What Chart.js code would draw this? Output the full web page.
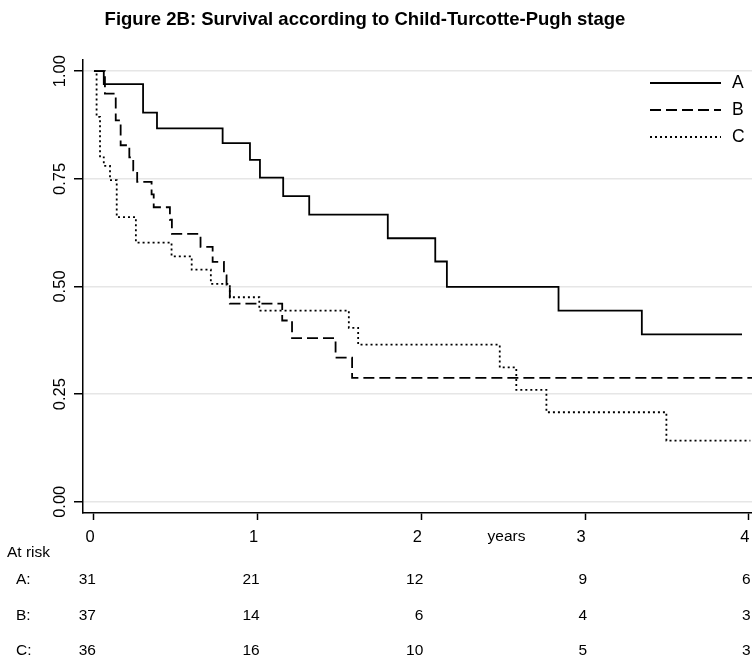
<!DOCTYPE html>
<html>
<head>
<meta charset="utf-8">
<title>Figure 2B: Survival according to Child-Turcotte-Pugh stage</title>
<script src="https://cdn.jsdelivr.net/npm/chart.js@4.4.0/dist/chart.umd.min.js"></script>
<style>
  body { margin: 0; background: #fff; }
  #wrap { position: relative; width: 752px; height: 661px; }
</style>
</head>
<body>
<div id="wrap"><canvas id="km"></canvas></div>
<script>
// Kaplan-Meier steps (time in years -> survival)
var timeA = [0, 0.06, 0.30, 0.385, 0.786, 0.953, 1.014, 1.156, 1.315, 1.795, 2.085, 2.156, 2.838, 3.347, 3.959];
var survA = [1.0, 0.970, 0.904, 0.867, 0.833, 0.794, 0.753, 0.710, 0.667, 0.612, 0.558, 0.499, 0.444, 0.389, 0.389];

var timeB = [0, 0.067, 0.133, 0.163, 0.216, 0.24, 0.264, 0.352, 0.365, 0.464, 0.476, 0.651, 0.725, 0.794, 0.81, 0.83, 1.15, 1.21, 1.476, 1.577, 4.02];
var survB = [1.0, 0.948, 0.886, 0.828, 0.80, 0.77, 0.743, 0.714, 0.684, 0.655, 0.622, 0.592, 0.557, 0.526, 0.50, 0.46, 0.421, 0.38, 0.335, 0.288, 0.288];

var timeC = [0, 0.016, 0.037, 0.06, 0.098, 0.139, 0.256, 0.474, 0.597, 0.714, 0.83, 1.01, 1.557, 1.614, 2.479, 2.58, 2.764, 3.497, 4.01];
var survC = [1.0, 0.894, 0.80, 0.78, 0.747, 0.661, 0.602, 0.57, 0.539, 0.506, 0.475, 0.444, 0.404, 0.365, 0.312, 0.26, 0.208, 0.142, 0.142];

var groups = ['A', 'B', 'C'];
var xTicks = [0, 1, 2, 3, 4];
var yTicks = [0, 0.25, 0.5, 0.75, 1];

// numbers at risk at each year
var riskTimes = [0, 1, 2, 3, 4];
var riskA = [31, 21, 12, 9, 6];
var riskB = [37, 14, 6, 4, 3];
var riskC = [36, 16, 10, 5, 3];

var titleText = 'Figure 2B: Survival according to Child-Turcotte-Pugh stage';
var FONT = '"Liberation Sans", Arial, sans-serif';
Chart.defaults.font.family = FONT;
Chart.defaults.color = '#000';

function pts(t, s) {
    return t.map(function (v, i) { return { x: v, y: s[i] }; });
}

var dashes = [[], [11, 5], [2, 3]];

// title, legend and at-risk table
var extras = {
    id: 'extras',
    afterDraw: function (chart) {
        var ctx = chart.ctx;
        var xs = chart.scales.x;
        var area = chart.chartArea;
        ctx.save();
        ctx.fillStyle = '#000';
        ctx.strokeStyle = '#000';

        ctx.font = 'bold 18.5px ' + FONT;
        ctx.textAlign = 'center';
        ctx.textBaseline = 'middle';
        ctx.fillText(titleText, 365, 20);

        // legend, top right inside the plot
        ctx.font = '17.5px ' + FONT;
        ctx.textAlign = 'left';
        ctx.lineWidth = 1.8;
        groups.forEach(function (g, i) {
            var y = area.top + 23 + i * 27;
            ctx.setLineDash(dashes[i]);
            ctx.beginPath();
            ctx.moveTo(area.right - 102, y);
            ctx.lineTo(area.right - 31, y);
            ctx.stroke();
            ctx.fillText(g, area.right - 20, y);
        });
        ctx.setLineDash([]);

        ctx.font = '15.5px ' + FONT;
        ctx.textAlign = 'center';
        ctx.fillText('years', xs.getPixelForValue(2.52), area.bottom + 24);

        ctx.textAlign = 'left';
        ctx.fillText('At risk', 7, area.bottom + 40);

        var rows = [riskA, riskB, riskC];
        var rowY = [67, 103, 138];
        rows.forEach(function (row, r) {
            var y = area.bottom + rowY[r];
            ctx.textAlign = 'left';
            ctx.fillText(groups[r] + ':', 16, y);
            ctx.textAlign = 'right';
            row.forEach(function (n, j) {
                ctx.fillText(String(n), xs.getPixelForValue(riskTimes[j]) + 2, y);
            });
        });
        ctx.restore();
    }
};

var ctx = document.getElementById('km').getContext('2d');
var chart = new Chart(ctx, {
    type: 'line',
    data: {
        datasets: [
            { label: 'A', data: pts(timeA, survA), borderDash: dashes[0] },
            { label: 'B', data: pts(timeB, survB), borderDash: dashes[1] },
            { label: 'C', data: pts(timeC, survC), borderDash: dashes[2] }
        ].map(function (d) {
            d.borderColor = '#000';
            d.borderWidth = 1.8;
            d.pointRadius = 0;
            d.stepped = 'before';
            d.fill = false;
            return d;
        })
    },
    options: {
        responsive: true,
        maintainAspectRatio: false,
        animation: false,
        layout: { padding: { top: 60, right: 0, bottom: 108, left: 0 } },
        plugins: {
            legend: { display: false },
            title: { display: false },
            tooltip: { enabled: false }
        },
        scales: {
            x: {
                type: 'linear',
                min: -0.067,
                max: 4.02,
                afterBuildTicks: function (s) {
                    s.ticks = xTicks.map(function (v) { return { value: v }; });
                },
                afterFit: function (s) {
                    s.height = 40;
                    s.paddingLeft = 0;
                    s.paddingRight = 0;
                },
                grid: { drawOnChartArea: false, tickLength: 7, tickColor: '#000', tickWidth: 1.5 },
                border: { color: '#000', width: 1.5 },
                ticks: { font: { size: 16.5 }, padding: 8, maxRotation: 0, labelOffset: -4 }
            },
            y: {
                min: -0.026,
                max: 1.026,
                afterBuildTicks: function (s) {
                    s.ticks = yTicks.map(function (v) { return { value: v }; });
                },
                afterFit: function (s) {
                    s.width = 83;
                },
                grid: { color: '#e6e6e6', lineWidth: 1.5, tickLength: 9, tickColor: '#000', tickWidth: 1.5 },
                border: { color: '#000', width: 1.5 },
                ticks: {
                    font: { size: 16.5 },
                    padding: -3,
                    minRotation: 90,
                    maxRotation: 90,
                    crossAlign: 'center',
                    callback: function (v) { return v.toFixed(2); }
                }
            }
        }
    },
    plugins: [extras]
});
</script>
</body>
</html>
